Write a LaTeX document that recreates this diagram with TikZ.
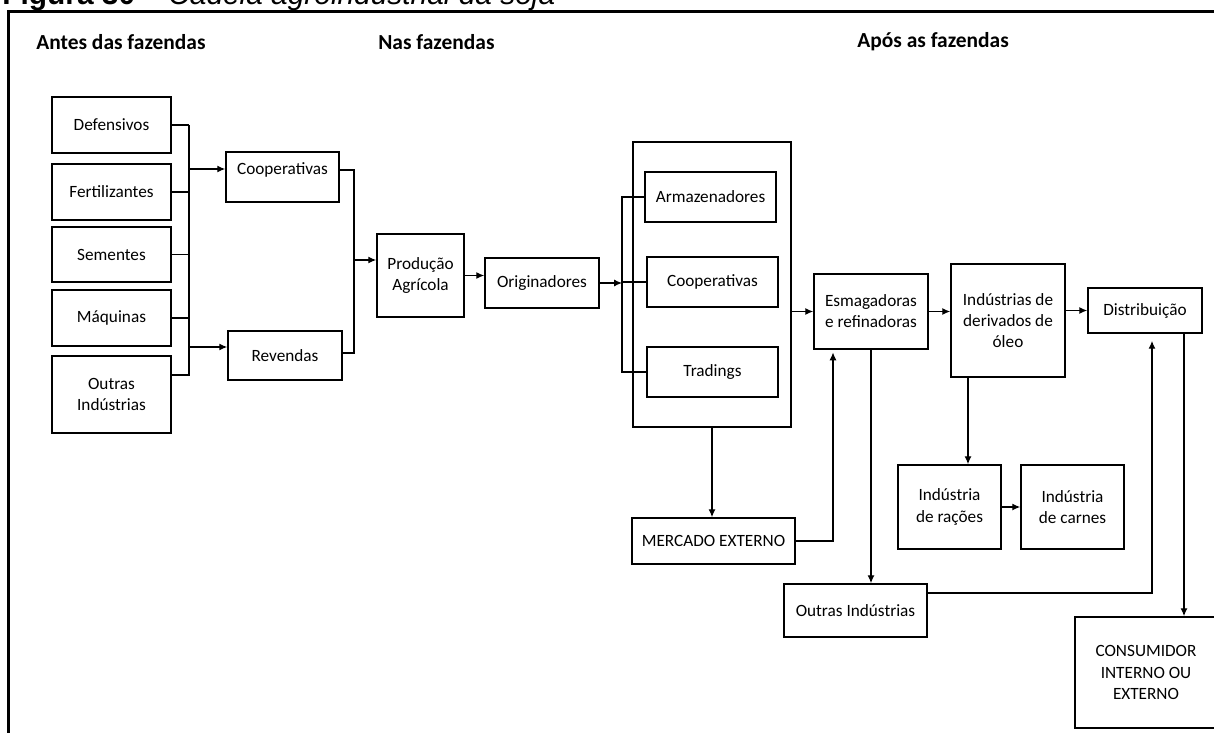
\documentclass[tikz,border=0pt]{standalone}
\usepackage{fontspec}
\setmainfont{Carlito}
\newfontfamily\capfont{Liberation Sans}
\usetikzlibrary{arrows.meta}

\begin{document}
\begin{tikzpicture}[x=0.02cm, y=-0.02cm,
    box/.style = {draw, line width=0.9pt, align=center, inner sep=0pt, font=\fontsize{9.8}{12}\selectfont},
    sz/.style 2 args = {minimum width=#1*0.02cm, minimum height=#2*0.02cm},
    arr/.style = {-{Latex[length=4.5pt, width=4pt]}},
    head/.style = {anchor=west, inner sep=0pt, font=\fontsize{12.2}{14}\selectfont\bfseries}]
    \useasboundingbox (0,0) rectangle (1214,733);
    \clip (0,0) rectangle (1214,733);
    \node[anchor=base west, inner sep=0pt, font=\capfont\fontsize{17}{20}\selectfont] (cap) at (2,5) {\textbf{Figura 30} – \textit{Cadeia agroindustrial da soja}};
    \draw[line width=1.2pt] (8.5,760) -- (8.5,11.5) -- (1230,11.5);
    % etapas
    \node[head] (antes) at (36,42) {Antes das fazendas};
    \node[head] (nas) at (378,42) {Nas fazendas};
    \node[head] (apos) at (857,42) {Após as fazendas};
    % antes das fazendas
    \node[box, sz={119}{56}] (def) at (111.5,125) {Defensivos};
    \node[box, sz={119}{56}] (fert) at (111.5,192) {Fertilizantes};
    \node[box, sz={119}{55}] (sem) at (111.5,254.5) {Sementes};
    \node[box, sz={119}{56}] (maq) at (111.5,318) {Máquinas};
    \node[box, sz={119}{77}] (outr) at (111.5,394.5) {Outras\\Indústrias};
    \node[box, sz={113}{50}] (coop) at (282.5,177) {Cooperativas\\[-3pt]\phantom{C}};
    \node[box, sz={114}{49}] (rev) at (285,355.5) {Revendas};
    % nas fazendas
    \node[box, sz={87}{83}] (prod) at (420.5,275.5) {Produção\\Agrícola};
    \node[box, sz={114}{50}] (orig) at (542,283) {Originadores};
    % após as fazendas
    \node[box, sz={158}{285}] (grp) at (712,284.5) {};
    \node[box, sz={131}{50}] (arm) at (710.5,197) {Armazenadores};
    \node[box, sz={131}{50}] (coopb) at (712.5,282) {Cooperativas};
    \node[box, sz={131}{50}] (trad) at (712.5,372) {Tradings};
    \node[box, sz={163}{46}] (merc) at (713.5,541) {MERCADO EXTERNO};
    \node[box, sz={114}{75}] (esm) at (871,311.5) {Esmagadoras\\e refinadoras};
    \node[box, sz={114}{113}] (deriv) at (1008,320.5) {Indústrias de\\derivados de\\óleo};
    \node[box, sz={114}{45}] (dist) at (1145,310.5) {Distribuição};
    \node[box, sz={103}{84}] (rac) at (949.5,507) {Indústria\\de rações};
    \node[box, sz={103}{84}] (carn) at (1072.5,507) {Indústria\\de carnes};
    \node[box, sz={143}{53}] (outb) at (855.5,610.5) {Outras Indústrias};
    \node[box, sz={142}{111}] (cons) at (1146,672.5) {CONSUMIDOR\\INTERNO OU\\EXTERNO};
    \begin{scope}[line width=0.7pt]
    % insumos
    \coordinate (ba) at (189,128);
    \coordinate (bb) at (189,375);
    \foreach \n in {def,fert,sem,maq}
        \draw (\n.east) -- (\n.east -| ba);
    \draw (outr.east |- bb) -- (bb) -- (def.east -| ba);
    \coordinate (ja) at (189,169);
    \coordinate (jb) at (189,347);
    \draw[arr] (ja) -- (coop.west |- ja);
    \draw[arr] (jb) -- (rev.west |- jb);
    % para a produção
    \coordinate (ka) at (354,170);
    \coordinate (kb) at (354,353);
    \coordinate (kc) at (354,260);
    \draw (coop.east |- ka) -- (ka) -- (kb) -- (rev.east |- kb);
    \draw[arr] (kc) -- (prod.west |- kc);
    \draw[arr] (prod.east) -- (orig.west |- prod.east);
    \coordinate (ma) at (622,197);
    \coordinate (mb) at (622,372);
    \draw[arr] (orig.east) -- (orig.east -| ma);
    \draw (arm.west) -- (arm.west -| ma) -- (trad.west -| mb) -- (trad.west);
    \draw (coopb.west) -- (coopb.west -| ma);
    % industria
    \draw[arr] (grp.east |- esm.west) -- (esm.west);
    \draw[arr] (grp.south) -- (grp.south |- merc.north);
    \coordinate (me) at (833,541);
    \draw[arr, shorten >=1.5pt] (merc.east) -| (esm.south -| me);
    \draw[arr] (esm.east) -- (esm.east -| deriv.west);
    \draw[arr] (deriv.east |- dist.west) -- (dist.west);
    \draw[arr] (esm.south) -- (esm.south |- outb.north);
    \coordinate (dr) at (968,377);
    \draw[arr] (dr) -- (dr |- rac.north);
    \draw[arr] (rac.east) -- (carn.west);
    \coordinate (od) at (1152,593);
    \draw[arr, shorten >=4pt] (outb.east |- od) -- (od) -- (od |- dist.south);
    \coordinate (dc) at (1184,333);
    \draw[arr] (dc) -- (dc |- cons.north);
    \end{scope}
\end{tikzpicture}
\end{document}
